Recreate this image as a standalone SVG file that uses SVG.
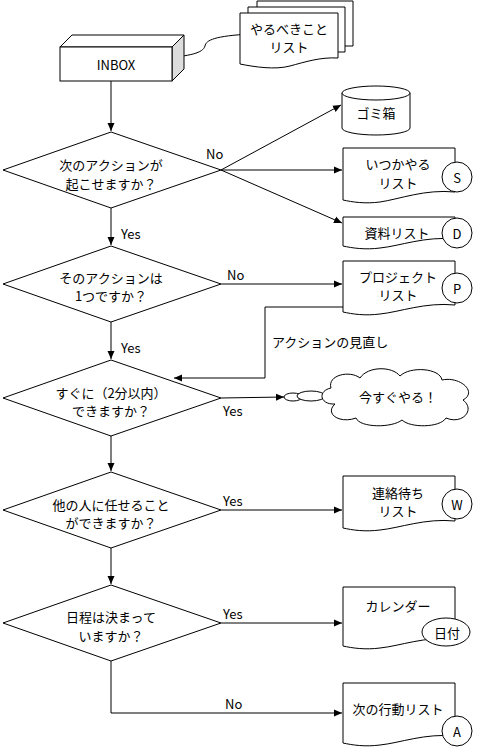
<svg xmlns="http://www.w3.org/2000/svg" width="480" height="748" viewBox="0 0 480 748">
<style>
.s{fill:#fff;stroke:#000;stroke-width:1}
.l{fill:none;stroke:#000;stroke-width:1}
text{font-family:"Noto Sans CJK JP","Noto Sans",sans-serif;font-size:13px;fill:#000;dominant-baseline:central}
.c{text-anchor:middle}
</style>
<defs>
<marker id="ah" markerWidth="9" markerHeight="8" refX="8" refY="4" orient="auto" markerUnits="userSpaceOnUse">
<path d="M0,0.5 L8,4 L0,7.5 Z" fill="#000"/>
</marker>
</defs>
<rect width="480" height="748" fill="#fff"/>

<g id="connectors">
<path class="l" d="M250,34 C215,36 206,40 205,46 C203,53 190,56 164,58" marker-end="url(#ah)"/>
<line class="l" x1="111" y1="81" x2="111" y2="131" marker-end="url(#ah)"/>
<line class="l" x1="221" y1="170" x2="341" y2="105" marker-end="url(#ah)"/>
<line class="l" x1="221" y1="170" x2="342" y2="170" marker-end="url(#ah)"/>
<line class="l" x1="221" y1="170" x2="342" y2="223" marker-end="url(#ah)"/>
<line class="l" x1="111" y1="208" x2="111" y2="245" marker-end="url(#ah)"/>
<line class="l" x1="221" y1="284" x2="342" y2="284" marker-end="url(#ah)"/>
<path class="l" d="M343,307 H265 V378 H174" marker-end="url(#ah)"/>
<line class="l" x1="111" y1="322" x2="111" y2="359" marker-end="url(#ah)"/>
<line class="l" x1="221" y1="398" x2="284" y2="397" marker-end="url(#ah)"/>
<line class="l" x1="111" y1="436" x2="111" y2="471" marker-end="url(#ah)"/>
<line class="l" x1="221" y1="510" x2="342" y2="510" marker-end="url(#ah)"/>
<line class="l" x1="111" y1="548" x2="111" y2="584" marker-end="url(#ah)"/>
<line class="l" x1="221" y1="623" x2="342" y2="623" marker-end="url(#ah)"/>
<path class="l" d="M111,661 V713 H342" marker-end="url(#ah)"/>
<text x="206" y="153">No</text>
<text x="121" y="233">Yes</text>
<text x="227" y="274">No</text>
<text x="121" y="347">Yes</text>
<text x="272" y="341">アクションの見直し</text>
<text x="223" y="410">Yes</text>
<text x="223" y="500">Yes</text>
<text x="223" y="613">Yes</text>
<text x="225" y="703">No</text>
</g>

<g id="inbox">
<polygon class="s" points="60,47 72,35 184,35 172,47"/>
<polygon points="172,47 184,35 184,69 172,81" fill="#ddd" stroke="#000"/>
<rect class="s" x="60" y="47" width="112" height="34"/>
<text class="c" x="116" y="64">INBOX</text>
</g>

<g id="todo-list">
<path class="s" d="M257,1 H353 V46 H257 Z"/>
<path class="s" d="M248,7 H345 V52 H248 Z"/>
<path class="s" d="M240,13 H338 V58 C320,57 305,62 290,66 C275,70 255,67 240,64 Z"/>
<text class="c" x="289" y="28">やるべきこと</text>
<text class="c" x="289" y="46">リスト</text>
</g>

<g id="trash">
<path class="s" d="M342,93 V128 A34,7 0 0 0 410,128 V93"/>
<ellipse class="s" cx="376" cy="93" rx="34" ry="7"/>
<text class="c" x="376" y="112">ゴミ箱</text>
</g>

<g id="d1">
<polygon class="s" points="3,170 111,132 221,170 111,208"/>
<text class="c" x="111" y="164">次のアクションが</text>
<text class="c" x="111" y="183">起こせますか？</text>
</g>

<g id="someday">
<path class="s" d="M343,148 H455 V192 C425,189 400,199 380,202 C365,204 352,202 343,200 Z"/>
<circle class="s" cx="457" cy="177" r="15"/>
<text class="c" x="457" y="177">S</text>
<text class="c" x="398" y="163">いつかやる</text>
<text class="c" x="398" y="182">リスト</text>
</g>

<g id="reference">
<path class="s" d="M343,217 H455 V239 C425,236 400,246 380,248 C365,250 352,248 343,246 Z"/>
<circle class="s" cx="457" cy="233" r="15"/>
<text class="c" x="457" y="233">D</text>
<text class="c" x="397" y="232">資料リスト</text>
</g>

<g id="d2">
<polygon class="s" points="3,284 111,246 221,284 111,322"/>
<text class="c" x="111" y="277">そのアクションは</text>
<text class="c" x="111" y="295">1つですか？</text>
</g>

<g id="project">
<path class="s" d="M343,261 H455 V305 C425,302 400,312 380,314 C365,316 352,314 343,312 Z"/>
<circle class="s" cx="457" cy="288" r="15"/>
<text class="c" x="457" y="288">P</text>
<text class="c" x="398" y="276">プロジェクト</text>
<text class="c" x="398" y="294">リスト</text>
</g>

<g id="d3">
<polygon class="s" points="3,398 111,360 221,398 111,436"/>
<text class="c" x="111" y="392">すぐに（2分以内）</text>
<text class="c" x="111" y="410">できますか？</text>
</g>

<g id="do-now">
<ellipse class="s" cx="293" cy="397" rx="9" ry="4"/>
<ellipse class="s" cx="311" cy="396" rx="14" ry="5"/>
<path class="s" d="M335,404 C320,405 317,391 331,388 C327,375 350,370 360,378 C368,366 392,366 400,376 C410,366 440,368 442,380 C460,376 478,392 463,400 C476,410 462,425 446,418 C440,428 410,428 402,420 C392,428 360,428 356,418 C340,424 324,414 335,404 Z"/>
<text class="c" x="398" y="396">今すぐやる！</text>
</g>

<g id="d4">
<polygon class="s" points="3,510 111,472 221,510 111,548"/>
<text class="c" x="111" y="504">他の人に任せること</text>
<text class="c" x="111" y="522">ができますか？</text>
</g>

<g id="waiting">
<path class="s" d="M343,476 H455 V521 C425,518 400,528 380,530 C365,532 352,530 343,528 Z"/>
<circle class="s" cx="457" cy="504" r="15"/>
<text class="c" x="457" y="504">W</text>
<text class="c" x="398" y="492">連絡待ち</text>
<text class="c" x="398" y="510">リスト</text>
</g>

<g id="d5">
<polygon class="s" points="3,623 111,585 221,623 111,661"/>
<text class="c" x="111" y="616">日程は決まって</text>
<text class="c" x="111" y="635">いますか？</text>
</g>

<g id="calendar">
<path class="s" d="M343,587 H455 V639 C425,636 400,646 380,648 C365,650 352,648 343,646 Z"/>
<ellipse class="s" cx="446" cy="632" rx="24" ry="14"/>
<text class="c" x="447" y="632">日付</text>
<text class="c" x="398" y="605">カレンダー</text>
</g>

<g id="next-action">
<path class="s" d="M343,683 H455 V736 C425,733 400,743 380,745 C365,747 352,745 343,743 Z"/>
<circle class="s" cx="457" cy="731" r="15"/>
<text class="c" x="457" y="731">A</text>
<text class="c" x="398" y="708">次の行動リスト</text>
</g>
</svg>
